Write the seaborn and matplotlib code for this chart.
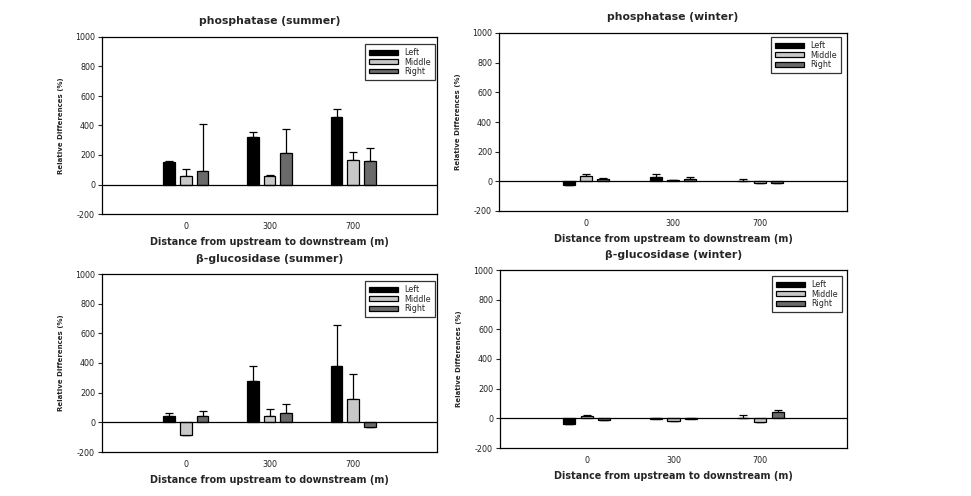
import matplotlib
matplotlib.use("Agg")
import matplotlib.pyplot as plt
import seaborn as sns
import pandas as pd
import numpy as np

# ---------------- data ----------------
distances = ["0", "300", "700"]
positions = ["Left", "Middle", "Right"]

phos_summer_left = [150, 325, 458]
phos_summer_middle = [58, 60, 167]
phos_summer_right = [90, 215, 158]
phos_summer_left_err = [12, 34, 57]
phos_summer_middle_err = [45, 5, 52]
phos_summer_right_err = [320, 162, 90]

phos_winter_left = [-25, 30, 3]
phos_winter_middle = [38, 8, -12]
phos_winter_right = [15, 15, -12]
phos_winter_left_err = [0, 18, 15]
phos_winter_middle_err = [12, 3, 0]
phos_winter_right_err = [5, 15, 0]

gluc_summer_left = [40, 280, 377]
gluc_summer_middle = [-88, 45, 158]
gluc_summer_right = [45, 60, -32]
gluc_summer_left_err = [22, 100, 278]
gluc_summer_middle_err = [0, 45, 167]
gluc_summer_right_err = [33, 65, 0]

gluc_winter_left = [-40, -5, 2]
gluc_winter_middle = [15, -18, -25]
gluc_winter_right = [-10, -5, 42]
gluc_winter_left_err = [0, 10, 18]
gluc_winter_middle_err = [10, 0, 0]
gluc_winter_right_err = [0, 8, 17]

titles = ["phosphatase (summer)", "phosphatase (winter)",
          "\u03b2-glucosidase (summer)", "\u03b2-glucosidase (winter)"]
yticks = [-200, 0, 200, 400, 600, 800, 1000]
xlabel = "Distance from upstream to downstream (m)"
ylabel = "Relative Differences (%)"

panels = [
    (phos_summer_left, phos_summer_middle, phos_summer_right,
     phos_summer_left_err, phos_summer_middle_err, phos_summer_right_err),
    (phos_winter_left, phos_winter_middle, phos_winter_right,
     phos_winter_left_err, phos_winter_middle_err, phos_winter_right_err),
    (gluc_summer_left, gluc_summer_middle, gluc_summer_right,
     gluc_summer_left_err, gluc_summer_middle_err, gluc_summer_right_err),
    (gluc_winter_left, gluc_winter_middle, gluc_winter_right,
     gluc_winter_left_err, gluc_winter_middle_err, gluc_winter_right_err),
]

# ---------------- style ----------------
sns.set_style("white")
plt.rcParams["font.family"] = ["DejaVu Sans"]

palette = {"Left": "#000000", "Middle": "#c8c8c8", "Right": "#6a6a6a"}

fig = plt.figure(figsize=(9.71, 4.96), dpi=100)
W, H = 971, 496
# (left, top, right, bottom) in pixels
boxes = [(102, 37, 437, 214), (499, 33, 847, 211),
         (102, 274, 437, 452), (500, 270, 847, 448)]
legend_anchor = [(0.995, 0.96), (0.983, 0.977), (0.995, 0.96), (0.985, 0.965)]

for i, (box, data) in enumerate(zip(boxes, panels)):
    l, t, r, b = box
    ax = fig.add_axes([l / W, 1 - b / H, (r - l) / W, (b - t) / H])
    means = data[:3]
    errs = data[3:]
    df = pd.DataFrame({
        "distance": np.repeat([distances], 3, axis=0).ravel(),
        "position": np.repeat(positions, 3),
        "value": np.concatenate(means),
    })
    sns.barplot(data=df, x="distance", y="value", hue="position",
                order=distances, hue_order=positions, palette=palette,
                width=0.6, gap=0.3, edgecolor="black", linewidth=0.9,
                errorbar=None, legend=False, ax=ax, zorder=2)
    for cont, m, e in zip(ax.containers, means, errs):
        xs = [p.get_x() + p.get_width() / 2 for p in cont.patches]
        ax.errorbar(xs, m, yerr=[np.zeros(len(e)), e], fmt="none",
                    ecolor="black", elinewidth=0.9, capsize=3.2,
                    capthick=0.9, zorder=1)
    ax.axhline(0, color="black", lw=0.9, zorder=3)
    ax.set_xlim(-1, 3)
    ax.set_ylim(-200, 1000)
    ax.set_yticks(yticks)
    ax.set_yticklabels([str(v) for v in yticks], fontsize=5.8, color="#222222")
    ax.set_xticks(range(3))
    ax.set_xticklabels(distances, fontsize=5.8, color="#222222")
    ax.tick_params(axis="y", direction="out", length=3, width=0.8, pad=2, left=True)
    ax.tick_params(axis="x", length=0, pad=6)
    for s in ax.spines.values():
        s.set_visible(True)
        s.set_color("black")
        s.set_linewidth(0.9)
    ax.set_title(titles[i], fontsize=7.8, fontweight="bold", pad=9)
    ax.set_xlabel(xlabel, fontsize=6.9, fontweight="bold", labelpad=4)
    ax.set_ylabel(ylabel, fontsize=5.0, fontweight="bold", labelpad=8)
    leg = ax.legend(handles=list(ax.containers), labels=positions,
                    loc="upper right", bbox_to_anchor=legend_anchor[i],
                    fontsize=5.8, frameon=True, fancybox=False,
                    edgecolor="black", handlelength=3.6, handleheight=0.55,
                    labelspacing=0.05, borderpad=0.5, handletextpad=0.8,
                    borderaxespad=0)
    leg.get_frame().set_linewidth(0.9)

fig.savefig("out.png", dpi=100)
